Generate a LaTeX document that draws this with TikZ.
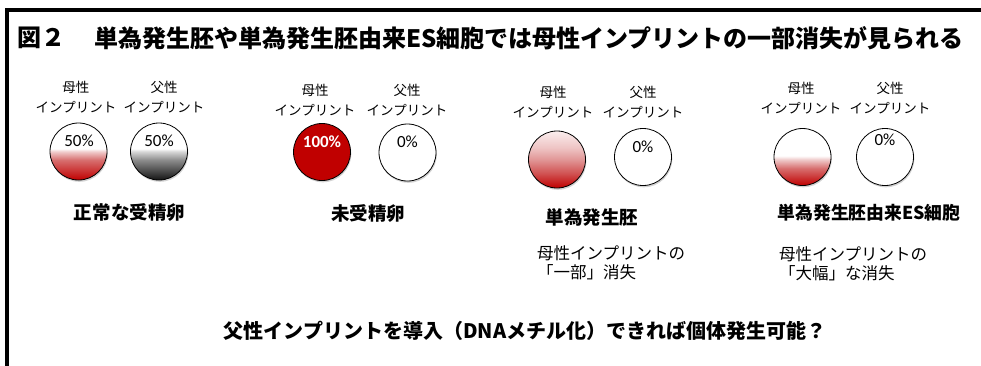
\documentclass[tikz,border=0pt]{standalone}
\usepackage{fontspec}
\usetikzlibrary{shadows}
\newfontfamily\jp{Noto Sans CJK JP}
\newfontfamily\lat{Carlito}
\definecolor{dred}{RGB}{192,0,0}
\definecolor{rA}{RGB}{240,205,205}
\definecolor{rB}{RGB}{215,110,110}
\definecolor{rC}{RGB}{250,238,238}
\definecolor{rD}{RGB}{238,195,195}
\definecolor{rE}{RGB}{225,150,150}
\definecolor{rF}{RGB}{208,80,80}
\definecolor{kA}{RGB}{215,215,215}
\definecolor{kB}{RGB}{140,140,140}
\definecolor{kC}{RGB}{20,20,20}
\pgfdeclareverticalshading{halfred}{100bp}{color(0bp)=(dred); color(25bp)=(dred); color(42.5bp)=(rB); color(50bp)=(rA); color(52.5bp)=(white); color(100bp)=(white)}
\pgfdeclareverticalshading{halfblack}{100bp}{color(0bp)=(kC); color(25bp)=(kC); color(42.5bp)=(kB); color(50bp)=(kA); color(52.5bp)=(white); color(100bp)=(white)}
\pgfdeclareverticalshading{fullred}{100bp}{color(0bp)=(dred); color(25bp)=(dred); color(37.5bp)=(rF); color(50bp)=(rE); color(60bp)=(rD); color(75bp)=(rC); color(100bp)=(rC)}
\pgfdeclareverticalshading{esred}{100bp}{color(0bp)=(dred); color(25bp)=(dred); color(40bp)=(rB); color(48bp)=(rA); color(51bp)=(white); color(100bp)=(white)}
\tikzset{
  circ/.style={circle, draw=black, line width=0.8bp, minimum size=57bp, inner sep=0pt,
     drop shadow={shadow xshift=0.8bp, shadow yshift=-1.8bp, opacity=0.35}},
  lbl/.style={font=\jp\fontsize{13.5bp}{20bp}\selectfont, align=center, inner sep=0pt},
  pct/.style={font=\lat\fontsize{17bp}{20bp}\selectfont, inner sep=0pt},
  captxt/.style={font=\jp\bfseries\fontsize{18.5bp}{22bp}\selectfont, inner sep=0pt},
  notetxt/.style={font=\jp\fontsize{16.5bp}{19.5bp}\selectfont, align=left, inner sep=0pt, anchor=north west},
}
\begin{document}
\begin{tikzpicture}[x=1bp,y=-1bp]
\useasboundingbox (0,0) rectangle (981,365);
\fill[white] (0,0) rectangle (981,365);
\draw[line width=4bp, line join=miter] (7,370) -- (7,10) -- (990,10);
% title
\node[font=\jp\bfseries\fontsize{24bp}{28bp}\selectfont, anchor=west, inner sep=0pt] (t1) at (17,38) {図２};
\node[font=\jp\bfseries\fontsize{24bp}{28bp}\selectfont, anchor=west, inner sep=0pt] (t2) at (94,38) {単為発生胚や単為発生胚由来ES細胞では母性インプリントの一部消失が見られる};
% group 1
\node[lbl] (g1m) at (76,97) {母性\\インプリント};
\node[lbl] (g1p) at (164,97) {父性\\インプリント};
\node[circ, shading=halfred] (c1m) at (78.5,151.5) {};
\node[circ, shading=halfblack] (c1p) at (159,151.5) {};
\node[pct] (p1m) at (79,141) {50\%};
\node[pct] (p1p) at (159,141) {50\%};
\node[captxt] (k1) at (129.5,212) {正常な受精卵};
% group 2
\node[lbl] (g2m) at (315,100) {母性\\インプリント};
\node[lbl] (g2p) at (407,100) {父性\\インプリント};
\node[circ, fill=dred] (c2m) at (322,152) {};
\node[circ, fill=white] (c2p) at (407.5,152.5) {};
\node[pct, font=\lat\bfseries\fontsize{17bp}{20bp}\selectfont, text=white] (p2m) at (322,142) {100\%};
\node[pct] (p2p) at (407.5,142) {0\%};
\node[captxt] (k2) at (368,213) {未受精卵};
% group 3
\node[lbl] (g3m) at (553,102) {母性\\インプリント};
\node[lbl] (g3p) at (643,102) {父性\\インプリント};
\node[circ, shading=fullred] (c3m) at (557,159.5) {};
\node[circ, fill=white] (c3p) at (643,157) {};
\node[pct] (p3p) at (643,147) {0\%};
\node[captxt] (k3) at (592,217) {単為発生胚};
\node[notetxt] (n3) at (537,245) {母性インプリントの\\「一部」消失};
% group 4
\node[lbl] (g4m) at (801,98) {母性\\インプリント};
\node[lbl] (g4p) at (890,98) {父性\\インプリント};
\node[circ, shading=esred] (c4m) at (802.5,157) {};
\node[circ, fill=white] (c4p) at (885,157) {};
\node[pct] (p4p) at (885,140) {0\%};
\node[captxt, font=\jp\bfseries\fontsize{17.8bp}{22bp}\selectfont] (k4) at (869,213) {単為発生胚由来ES細胞};
\node[notetxt] (n4) at (779,246) {母性インプリントの\\「大幅」な消失};
% bottom
\node[font=\jp\bfseries\fontsize{20bp}{24bp}\selectfont, inner sep=0pt] (b) at (525,331) {父性インプリントを導入（DNAメチル化）できれば個体発生可能？};
\end{tikzpicture}
\end{document}
